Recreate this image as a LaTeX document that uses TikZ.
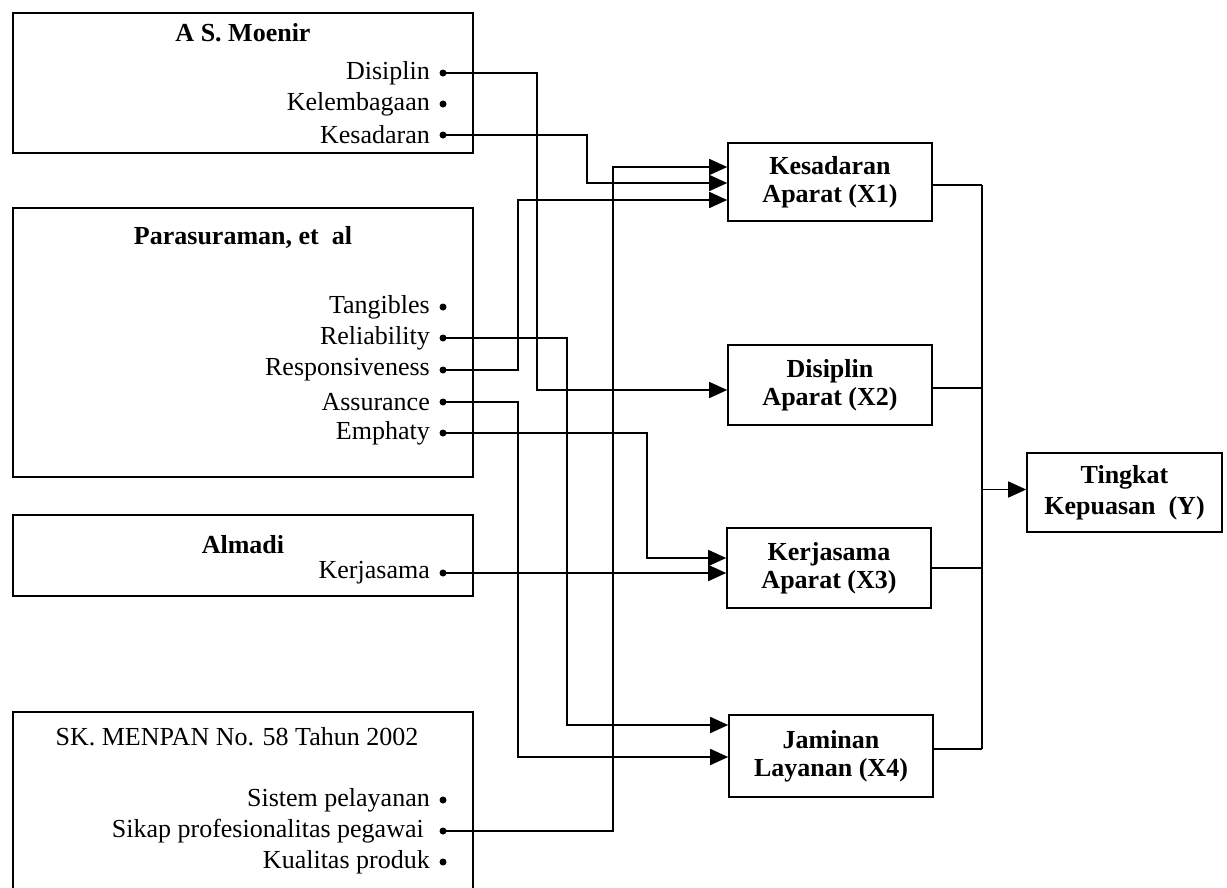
\documentclass[tikz,border=0pt]{standalone}
\usepackage{fontspec}
\setmainfont{Liberation Serif}
\usetikzlibrary{arrows.meta}
\begin{document}
\begin{tikzpicture}[x=1pt,y=-1pt,
  every node/.style={font=\fontsize{26}{29}\selectfont},
  srcbox/.style={draw, line width=1.6pt, inner sep=0pt, minimum width=460pt},
  srctitle/.style={font=\fontsize{26}{29}\selectfont\bfseries, inner sep=0pt},
  varbox/.style={draw, line width=1.6pt, minimum width=204pt, minimum height=80pt, align=center, inner sep=0pt, font=\fontsize{26}{28}\selectfont\bfseries},
  item/.style={anchor=east, inner sep=0pt},
  dotn/.style={circle, fill, inner sep=0pt, minimum size=7pt},
  conn/.style={line width=1.6pt},
  arr/.style={conn, -{Triangle[length=18pt,width=16pt]}},
]
\useasboundingbox (0,0) rectangle (1227,887);
\clip (0,0) rectangle (1227,887);

% source boxes
\node[srcbox, minimum height=140pt] (moenir) at (243,83) {};
\node[srcbox, minimum height=269pt] (paras) at (243,342.5) {};
\node[srcbox, minimum height=81pt] (almadi) at (243,555.5) {};
\node[srcbox, minimum height=190pt] (menpan) at (243,807) {};

\node[srctitle] (tMoenir) at (243,33) {A S. Moenir};
\node[srctitle] (tParas) at (243,237) {Parasuraman, et\ \ al};
\node[srctitle] (tAlmadi) at (243,545) {Almadi};
\node[inner sep=0pt] (tMenpan) at (237,737) {SK. MENPAN No. 58 Tahun 2002};

% items
\node[item] (iDis) at (430,73) {Disiplin};        \node[dotn] (dDis) at (443,73) {};
\node[item] (iKel) at (430,104) {Kelembagaan};    \node[dotn] (dKel) at (443,104) {};
\node[item] (iKes) at (430,135) {Kesadaran};      \node[dotn] (dKes) at (443,135) {};

\node[item] (iTan) at (430,307) {Tangibles};      \node[dotn] (dTan) at (443,307) {};
\node[item] (iRel) at (430,338) {Reliability};    \node[dotn] (dRel) at (443,338) {};
\node[item] (iRes) at (430,370) {Responsiveness}; \node[dotn] (dRes) at (443,370) {};
\node[item] (iAss) at (430,402) {Assurance};      \node[dotn] (dAss) at (443,402) {};
\node[item] (iEmp) at (430,433) {Emphaty};        \node[dotn] (dEmp) at (443,433) {};

\node[item] (iKer) at (430,573) {Kerjasama};      \node[dotn] (dKer) at (443,573) {};

\node[item] (iSis) at (430,800) {Sistem pelayanan};              \node[dotn] (dSis) at (443,800) {};
\node[item] (iSik) at (424,831) {Sikap profesionalitas pegawai}; \node[dotn] (dSik) at (443,831) {};
\node[item] (iKua) at (430,862) {Kualitas produk};               \node[dotn] (dKua) at (443,862) {};

% variable boxes
\node[varbox, minimum height=78pt] (X1) at (830,182) {Kesadaran\\Aparat (X1)};
\node[varbox] (X2) at (830,385) {Disiplin\\Aparat (X2)};
\node[varbox] (X3) at (829,568) {Kerjasama\\Aparat (X3)};
\node[varbox, minimum height=82pt] (X4) at (831,756) {Jaminan\\Layanan (X4)};
\node[varbox, minimum width=195pt, minimum height=79pt, font=\fontsize{26}{31}\selectfont\bfseries] (Y) at (1124.5,492.5) {Tingkat\\Kepuasan\ \ (Y)};

% connectors into X boxes
\draw[arr] (dSik.center) -| (613,167) -- ([yshift=15pt]X1.west);
\draw[arr] (dKes.center) -| (587,183) -- ([yshift=-1pt]X1.west);
\draw[arr] (dRes.center) -| (518,200) -- ([yshift=-18pt]X1.west);
\draw[arr] (dDis.center) -| (537,390) -- ([yshift=-5pt]X2.west);
\draw[arr] (dEmp.center) -| (647,558) -- ([yshift=10pt]X3.west);
\draw[arr] (dKer.center) -- ([yshift=-5pt]X3.west);
\draw[arr] (dRel.center) -| (567,725) -- ([yshift=31pt]X4.west);
\draw[arr] (dAss.center) -| (518,757) -- ([yshift=-1pt]X4.west);

% bus to Y
\coordinate (bus) at (982,490);
\draw[conn] ([yshift=-3pt]X1.east) -- ([yshift=-3pt]X1.east -| bus);
\draw[conn] ([yshift=-3pt]X2.east) -- ([yshift=-3pt]X2.east -| bus);
\draw[conn] (X3.east) -- (X3.east -| bus);
\draw[conn] ([yshift=7pt]X4.east) -- ([yshift=7pt]X4.east -| bus);
\draw[conn] ([yshift=-3pt]X1.east -| bus) -- ([yshift=7pt]X4.east -| bus);
\draw[arr] ([yshift=3pt]Y.west -| bus) -- ([yshift=3pt]Y.west);
\end{tikzpicture}
\end{document}
